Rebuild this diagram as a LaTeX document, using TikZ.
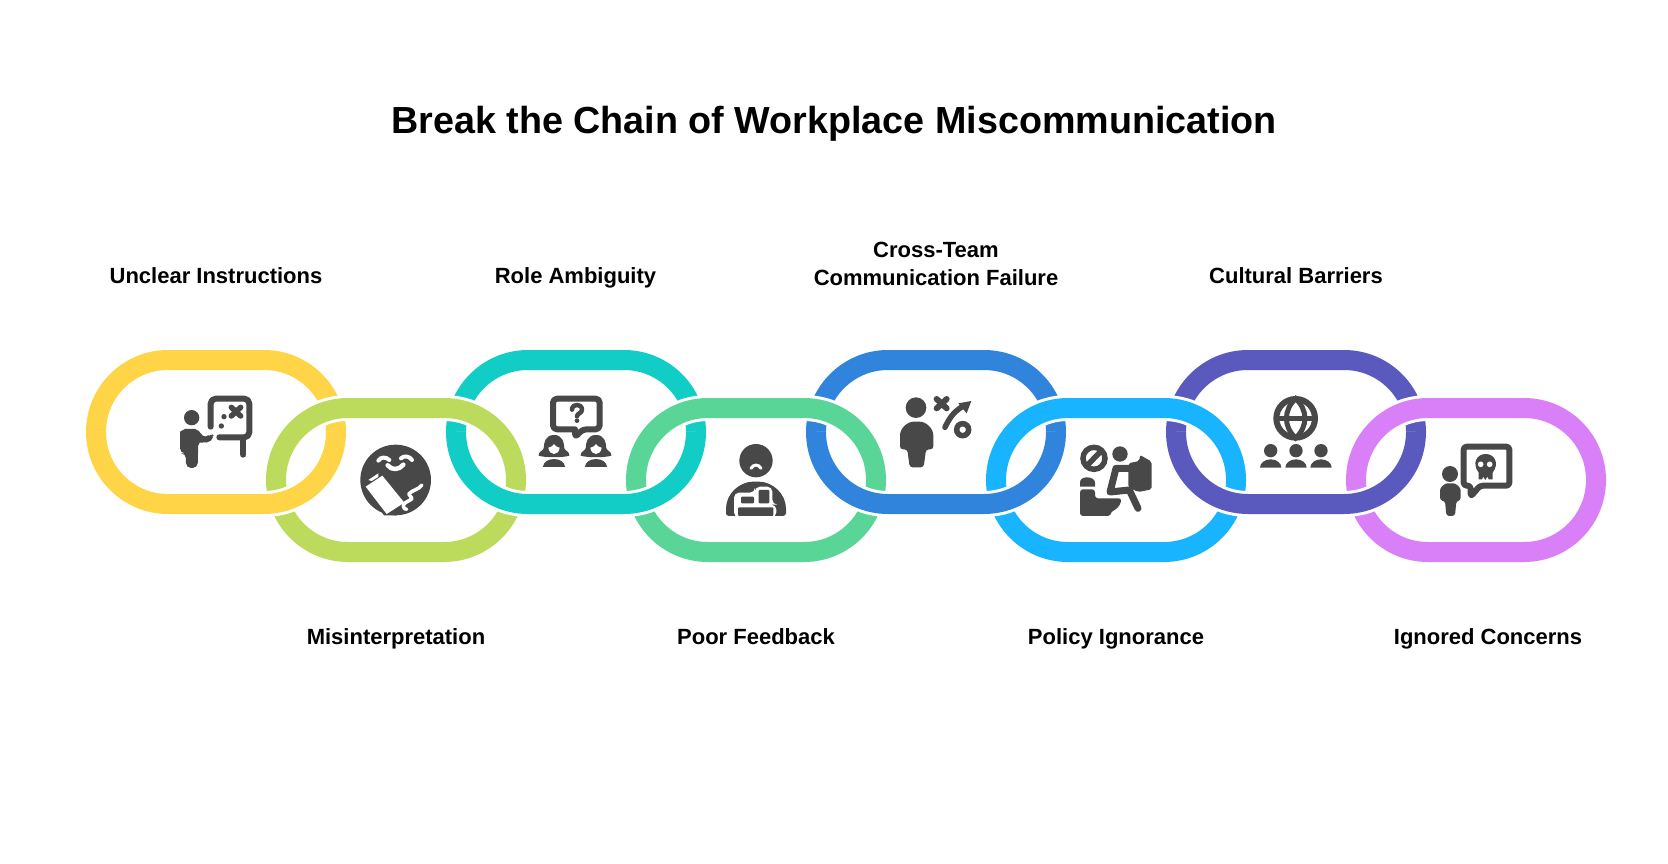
\documentclass[tikz,border=0pt]{standalone}
\usepackage{fontspec}
\setmainfont{Liberation Sans}
\definecolor{cyellow}{HTML}{FFD447}
\definecolor{clime}{HTML}{BCDB5C}
\definecolor{cteal}{HTML}{12CDC5}
\definecolor{cgreen}{HTML}{5AD598}
\definecolor{cblue}{HTML}{3184DC}
\definecolor{csky}{HTML}{18B4FF}
\definecolor{cindigo}{HTML}{5A5ABE}
\definecolor{cpurple}{HTML}{D980F9}
\definecolor{inkc}{HTML}{484848}
\tikzset{
  casing/.style={draw=white,line width=26pt},
  chainlink/.style={draw=#1,line width=20pt},
  titletext/.style={font=\bfseries\fontsize{37.7}{44}\selectfont,text=black,inner sep=0pt,anchor=base},
  labeltext/.style={font=\bfseries\fontsize{22}{28}\selectfont,text=black,inner sep=0pt,align=center},
  baselabel/.style={labeltext,anchor=base},
  ink/.style={fill=inkc,draw=none},
  inkline/.style={draw=inkc,line width=#1,line cap=round,line join=round,fill=none},
  inkline/.default=5pt,
  blank/.style={fill=white,draw=none},
  blankline/.style={draw=white,line width=#1,line cap=round,line join=round,fill=none},
}
\newcommand{\ringpath}[2]{(#1+72,#2) -- (#1+168,#2) arc[start angle=-90,end angle=90,radius=72] -- (#1+72,#2+144) arc[start angle=90,end angle=270,radius=72] -- cycle}
\newcommand{\lowerpath}[2]{(#1,#2+72) arc[start angle=180,end angle=90,radius=72] -- (#1+168,#2+144) arc[start angle=90,end angle=0,radius=72]}
\newcommand{\fulllink}[3]{%
  \draw[casing] \ringpath{#1}{#2};
  \draw[chainlink=#3] \ringpath{#1}{#2};
}
\newcommand{\plainlink}[3]{\draw[chainlink=#3] \ringpath{#1}{#2};}
\newcommand{\lowerhalf}[3]{%
  \draw[casing] \lowerpath{#1}{#2};
  \draw[chainlink=#3] \lowerpath{#1}{#2};
}
\begin{document}
\begin{tikzpicture}[x=1pt,y=-1pt]
\useasboundingbox[fill=white] (0,0) rectangle (1668,864);
% chain links
\plainlink{96}{360}{cyellow}
\plainlink{456}{360}{cteal}
\plainlink{816}{360}{cblue}
\plainlink{1176}{360}{cindigo}
\fulllink{276}{408}{clime}
\fulllink{636}{408}{cgreen}
\fulllink{996}{408}{csky}
\fulllink{1356}{408}{cpurple}
\lowerhalf{96}{360}{cyellow}
\lowerhalf{456}{360}{cteal}
\lowerhalf{816}{360}{cblue}
\lowerhalf{1176}{360}{cindigo}
% texts
\node[titletext] (title) at (834,134) {Break the Chain of Workplace Miscommunication};
\node[baselabel] (l1) at (216,283.3) {Unclear Instructions};
\node[baselabel] (l2) at (396,644.5) {Misinterpretation};
\node[baselabel] (l3) at (575.5,283.3) {Role Ambiguity};
\node[baselabel] (l4) at (756,644.5) {Poor Feedback};
\node[labeltext] (l5) at (936,263.8) {Cross-Team\\Communication Failure};
\node[baselabel] (l6) at (1116,644.5) {Policy Ignorance};
\node[baselabel] (l7) at (1296,283.3) {Cultural Barriers};
\node[baselabel] (l8) at (1488,644.5) {Ignored Concerns};
% icon 1: teacher at board
\begin{scope}[shift={(160,380)},x=0.3333pt,y=-0.3333pt]
  \fill[ink] (95,113) circle (23);
  \fill[ink,rounded corners=5pt] (60,220) -- (60,170) .. controls (60,155) and (75,147) .. (90,147) .. controls (108,147) and (118,155) .. (125,165) -- (138,176) -- (152,158) -- (165,172) -- (140,192) -- (115,182) -- (113,264) -- (78,264) -- (78,220) -- cycle;
  \draw[inkline=6pt,rounded corners=5pt] (152,140) -- (152,56) -- (268,56) -- (268,172) -- (178,172);
  \draw[inkline=6pt] (250,180) -- (250,224);
  \draw[inkline=5.5pt] (214,82) -- (242,108) (242,82) -- (214,108);
  \fill[ink] (192,110) circle (8);
  \fill[ink] (184,138) circle (8);
\end{scope}
% icon 2: globe with book
\begin{scope}[shift={(350,430)},x=0.3333pt,y=-0.3333pt]
  \begin{scope}
    \clip (0,40) rectangle (300,256);
    \fill[ink] (137,150) circle (106);
  \end{scope}
  \fill[ink] (32,162) -- (75,125) -- (140,256) -- (102,256) -- cycle;
  \fill[blank] (47,170) -- (97,137) -- (163,218) -- (110,252) -- cycle;
  \fill[blank] (55,150) -- (85,130) -- (85,141) -- (65,153) -- cycle;
  \draw[blankline=4pt] (85,92) .. controls (92,80) and (108,80) .. (118,90);
  \draw[blankline=4pt] (153,85) .. controls (162,76) and (178,78) .. (186,90);
  \draw[blankline=4.5pt] (113,106) .. controls (125,122) and (148,120) .. (160,104);
  \draw[blankline=3.5pt] (216,165) .. controls (205,180) and (190,178) .. (176,192) .. controls (178,202) and (190,202) .. (184,208) .. controls (175,214) and (160,218) .. (160,228) .. controls (160,235) and (165,238) .. (170,238);
\end{scope}
% icon 3: two women and question
\begin{scope}[shift={(530,385)},x=0.3333pt,y=-0.3333pt]
  \draw[inkline=6pt,rounded corners=4pt] (131,133) -- (69,133) -- (69,41) -- (209,41) -- (209,133) -- (157,133) -- (135,158) -- (135,133);
  \draw[inkline=4.5pt] (126,74) .. controls (126,55) and (156,55) .. (156,74) .. controls (156,86) and (141,84) .. (141,94);
  \fill[ink] (141,107) circle (7);
  \foreach \cx in {72,198}{
    \fill[ink] (\cx,150) .. controls (\cx+26,150) and (\cx+30,172) .. (\cx+31,190) .. controls (\cx+33,198) and (\cx+48,200) .. (\cx+46,212) .. controls (\cx+30,218) and (\cx-30,218) .. (\cx-46,212) .. controls (\cx-48,200) and (\cx-33,198) .. (\cx-31,190) .. controls (\cx-30,172) and (\cx-26,150) .. (\cx,150) -- cycle;
    \fill[blank] (\cx,177) .. controls (\cx+6,187) and (\cx+14,186) .. (\cx+17,188) .. controls (\cx+16,200) and (\cx+8,207) .. (\cx,207) .. controls (\cx-8,207) and (\cx-16,200) .. (\cx-17,188) .. controls (\cx-14,186) and (\cx-6,187) .. (\cx,177) -- cycle;
    \fill[ink] (\cx-33,246) arc[start angle=180,end angle=360,x radius=33,y radius=24] -- cycle;
  }
\end{scope}
% icon 4: person and bed
\begin{scope}[shift={(710,430)},x=0.3333pt,y=-0.3333pt]
  \fill[ink] (138,92) circle (50);
  \draw[blankline=3pt] (123,115) .. controls (130,102) and (146,102) .. (153,115);
  \fill[ink,rounded corners=3pt] (48,258) -- (48,245) .. controls (48,190) and (90,155) .. (138,155) .. controls (186,155) and (228,190) .. (228,245) -- (228,258) -- cycle;
  \fill[blank,rounded corners=5pt] (72,262) -- (72,188) -- (135,188) -- (135,170) -- (187,170) -- (187,224) -- (199,224) -- (199,262) -- cycle;
  \fill[ink,rounded corners=1pt] (93,200) rectangle (132,220);
  \fill[ink,rounded corners=1pt] (146,180) rectangle (178,220);
  \fill[ink,rounded corners=1pt] (84,232) -- (190,232) -- (190,258) -- (84,258) -- cycle;
\end{scope}
% icon 5: person and tactic
\begin{scope}[shift={(890,385)},x=0.3333pt,y=-0.3333pt]
  \fill[ink] (78,68) circle (31);
  \fill[ink,rounded corners=3pt] (30,193) -- (30,160) .. controls (30,130) and (52,110) .. (80,110) .. controls (108,110) and (130,130) .. (130,160) -- (130,193) -- (108,193) -- (101,247) -- (59,247) -- (52,193) -- cycle;
  \draw[inkline=6pt] (140,42) -- (170,70) (170,42) -- (140,70);
  \draw[inkline=5.5pt] (165,127) .. controls (178,100) and (190,82) .. (215,66);
  \fill[ink] (244,48) -- (230,85) -- (205,55) -- cycle;
  \draw[draw=inkc,line width=5.5pt] (218,134) circle (18);
\end{scope}
% icon 6: policy ignored
\begin{scope}[shift={(1070,430)},x=0.3333pt,y=-0.3333pt]
  \draw[draw=inkc,line width=5.5pt] (72,85) circle (33);
  \draw[draw=inkc,line width=5.5pt] (48,110) -- (96,60);
  \fill[ink] (30,170) -- (30,158) .. controls (30,148) and (38,142) .. (50,142) .. controls (65,142) and (75,148) .. (75,158) -- (75,170) -- cycle;
  \fill[ink,rounded corners=3pt] (30,178) -- (75,178) -- (75,205) -- (155,205) .. controls (150,230) and (135,240) .. (122,245) -- (122,258) -- (30,258) -- cycle;
  \fill[ink] (150,72) circle (23);
  \draw[inkline=7pt] (180,115) -- (138,115) -- (120,186) -- (178,180) -- (204,235);
  \fill[ink,rounded corners=2pt] (175,100) -- (208,93) -- (210,75) -- (245,95) -- (245,178) -- (205,186) -- (175,172) -- cycle;
\end{scope}
% icon 7: globe and people
\begin{scope}[shift={(1250,385)},x=0.3333pt,y=-0.3333pt]
  \draw[draw=inkc,line width=6pt] (137,100) circle (58);
  \draw[draw=inkc,line width=5pt] (137,41) .. controls (100,75) and (100,125) .. (137,159) .. controls (174,125) and (174,75) .. (137,41) -- cycle;
  \draw[draw=inkc,line width=5pt] (78,100) -- (196,100);
  \foreach \cx in {62,138,213}{
    \fill[ink] (\cx,197) circle (20);
    \fill[ink] (\cx-32,248) arc[start angle=180,end angle=360,x radius=32,y radius=25] -- cycle;
  }
\end{scope}
% icon 8: person and skull bubble
\begin{scope}[shift={(1430,430)},x=0.3333pt,y=-0.3333pt]
  \draw[inkline=6pt,rounded corners=3pt] (122,167) -- (101,167) -- (101,50) -- (238,50) -- (238,167) -- (150,167) -- (122,200) -- cycle;
  \fill[ink] (146,128) .. controls (125,100) and (140,72) .. (167,72) .. controls (194,72) and (209,100) .. (188,128) -- (188,148) -- (176,148) -- (172,140) -- (166,150) -- (160,140) -- (156,148) -- (146,148) -- cycle;
  \fill[blank] (152,103) circle (8.5);
  \fill[blank] (179,103) circle (8.5);
  \fill[ink] (60,132) circle (24);
  \fill[ink,rounded corners=3pt] (30,212) -- (30,190) .. controls (30,172) and (44,160) .. (61,160) .. controls (78,160) and (92,172) .. (92,190) -- (92,212) -- (79,212) -- (75,258) -- (49,258) -- (45,212) -- cycle;
\end{scope}
\end{tikzpicture}
\end{document}
